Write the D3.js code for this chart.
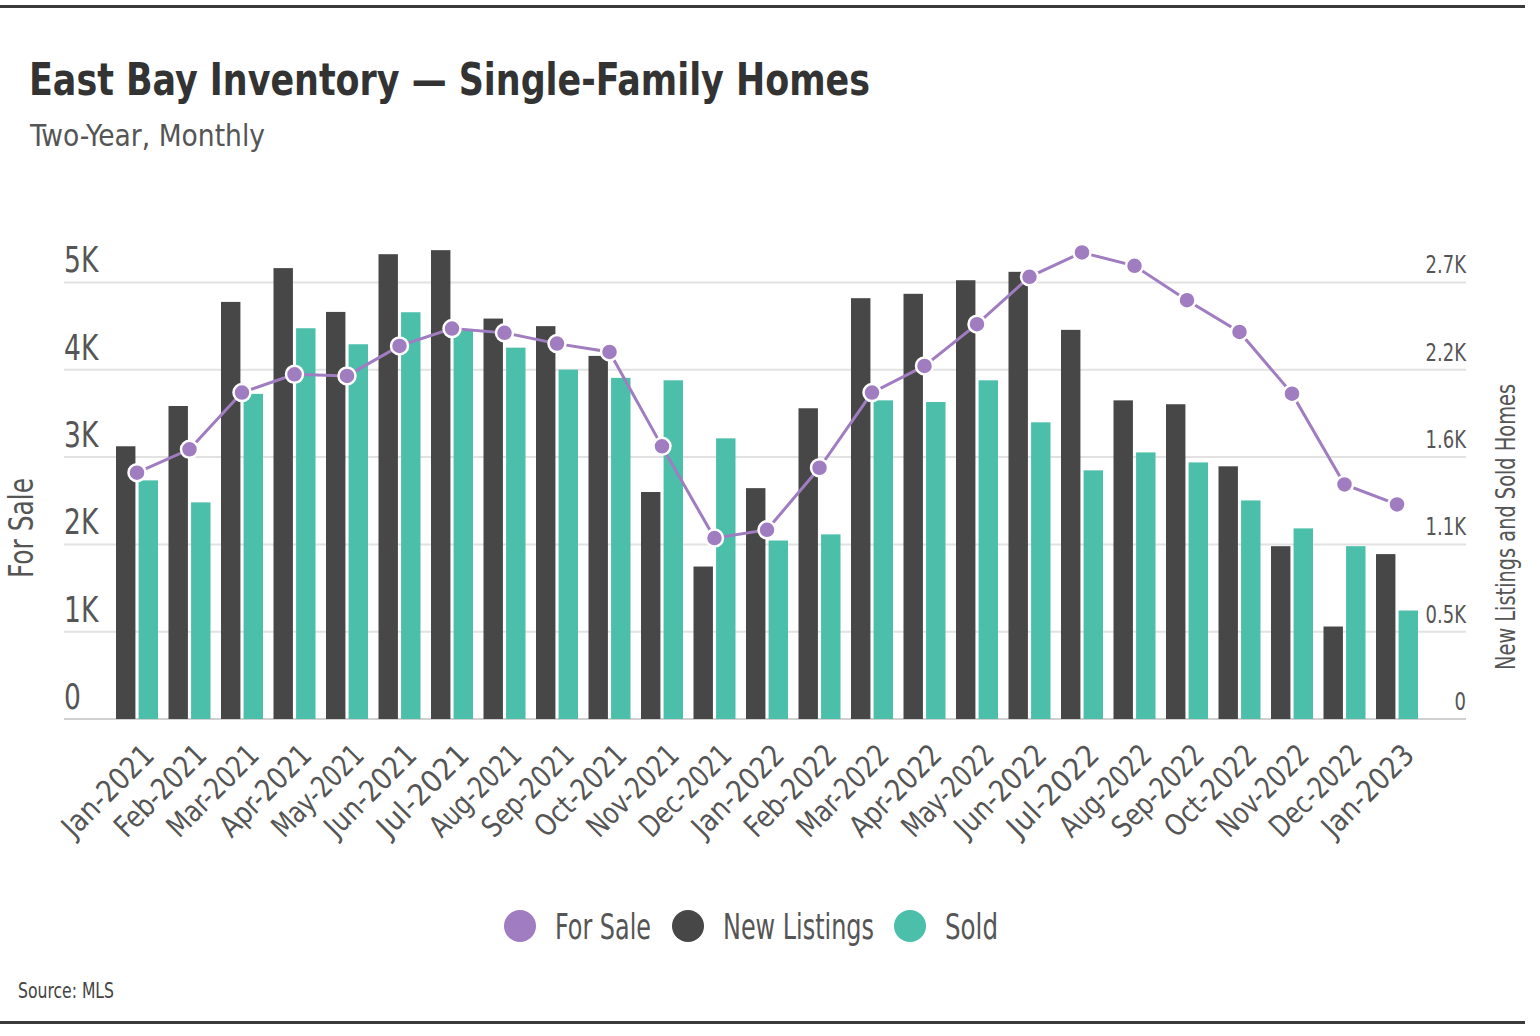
<!DOCTYPE html>
<html>
<head>
<meta charset="utf-8">
<script src="https://cdn.jsdelivr.net/npm/d3@7"></script>
<style>
  body { margin: 0; background: #fff; }
  svg text { font-family: "DejaVu Sans Condensed", "Liberation Sans Narrow", sans-serif; }
</style>
</head>
<body>
<div id="chart"></div>
<script>
// data
const months = ["Jan-2021","Feb-2021","Mar-2021","Apr-2021","May-2021","Jun-2021","Jul-2021","Aug-2021",
  "Sep-2021","Oct-2021","Nov-2021","Dec-2021","Jan-2022","Feb-2022","Mar-2022","Apr-2022","May-2022",
  "Jun-2022","Jul-2022","Aug-2022","Sep-2022","Oct-2022","Nov-2022","Dec-2022","Jan-2023"];
const forSale = [2821, 3089, 3739, 3949, 3930, 4274, 4472, 4423, 4300, 4205, 3123, 2072, 2167,
  2878, 3739, 4044, 4522, 5065, 5344, 5191, 4797, 4434, 3727, 2687, 2458];
const newListings = [1687, 1936, 2580, 2789, 2518, 2875, 2900, 2477, 2430, 2246, 1404, 943, 1428,
  1922, 2603, 2630, 2714, 2766, 2407, 1971, 1947, 1563, 1069, 572, 1020];
const sold = [1476, 1340, 2011, 2417, 2318, 2516, 2400, 2297, 2161, 2110, 2095, 1736, 1104,
  1142, 1971, 1961, 2095, 1835, 1538, 1649, 1587, 1352, 1179, 1069, 671];
const leftTicks = [0, 1000, 2000, 3000, 4000, 5000];
const rightTicks = [0, 540, 1080, 1620, 2160, 2700];
const seriesNames = ["For Sale", "New Listings", "Sold"];

const colors = {"For Sale": "#a07cc0", "New Listings": "#474747", "Sold": "#4bbfaa"};

const W = 1540, H = 1036;
const plot = {left: 64, right: 1466, top: 282.5, bottom: 719};

const svg = d3.select("#chart").append("svg")
    .attr("width", W).attr("height", H);

// rules top and bottom
svg.append("rect").attr("x", 0).attr("y", 5).attr("width", 1525).attr("height", 3).attr("fill", "#3a3a3a");
svg.append("rect").attr("x", 0).attr("y", 1021).attr("width", 1525).attr("height", 3).attr("fill", "#3a3a3a");

// narrow font isn't available, so squeeze the wide texts to the widths in the picture
svg.append("text").attr("x", 29).attr("y", 95)
    .attr("font-size", 45).attr("font-weight", "bold").attr("fill", "#333")
    .attr("textLength", 841).attr("lengthAdjust", "spacingAndGlyphs")
    .text("East Bay Inventory — Single-Family Homes");
svg.append("text").attr("x", 30).attr("y", 146)
    .attr("font-size", 31).attr("fill", "#555")
    .attr("textLength", 235).attr("lengthAdjust", "spacingAndGlyphs")
    .text("Two-Year, Monthly");

const x0 = d3.scaleBand().domain(months)
    .range([110.75, 1423.25]).paddingInner(0.2).paddingOuter(0.1);
const x1 = d3.scaleBand().domain(["New Listings", "Sold"])
    .range([0, x0.bandwidth()]).paddingInner(0.14);

const yL = d3.scaleLinear().domain([0, 5000]).range([plot.bottom, plot.top]);
const yR = d3.scaleLinear().domain([0, 2700]).range([plot.bottom, plot.top]);

// gridlines
svg.append("g").selectAll("line").data(leftTicks).join("line")
    .attr("x1", plot.left).attr("x2", plot.right)
    .attr("y1", d => yL(d)).attr("y2", d => yL(d))
    .attr("stroke", d => d === 0 ? "#d0d0d0" : "#e2e2e2")
    .attr("stroke-width", 2);

// left axis labels
svg.append("g").selectAll("text").data(leftTicks).join("text")
    .attr("x", plot.left).attr("y", d => yL(d) - 10)
    .attr("font-size", 36).attr("fill", "#555")
    .attr("transform", d => "translate(" + plot.left + "," + (yL(d) - 10) + ") scale(0.82,1) translate(" + (-plot.left) + "," + (-(yL(d) - 10)) + ")")
    .text(d => d === 0 ? "0" : d / 1000 + "K");

// right axis labels
svg.append("g").selectAll("text").data(rightTicks).join("text")
    .attr("x", plot.right).attr("y", d => yR(d) - 9)
    .attr("text-anchor", "end")
    .attr("font-size", 25).attr("fill", "#555")
    .attr("transform", d => "translate(" + plot.right + "," + (yR(d) - 9) + ") scale(0.8,1) translate(" + (-plot.right) + "," + (-(yR(d) - 9)) + ")")
    .text(d => d === 0 ? "0" : (d / 1000).toFixed(1) + "K");

svg.append("text")
    .attr("transform", "translate(33,528) rotate(-90)")
    .attr("text-anchor", "middle").attr("font-size", 33).attr("fill", "#555")
    .attr("textLength", 100).attr("lengthAdjust", "spacingAndGlyphs")
    .text("For Sale");
svg.append("text")
    .attr("transform", "translate(1515,527) rotate(-90)")
    .attr("text-anchor", "middle").attr("font-size", 26).attr("fill", "#555")
    .attr("textLength", 286).attr("lengthAdjust", "spacingAndGlyphs")
    .text("New Listings and Sold Homes");

// bars
const rows = months.map((m, i) => ({month: m, "New Listings": newListings[i], "Sold": sold[i]}));
svg.append("g").selectAll("g").data(rows).join("g")
    .attr("transform", d => "translate(" + x0(d.month) + ",0)")
    .selectAll("rect")
    .data(d => ["New Listings", "Sold"].map(k => ({key: k, value: d[k]})))
    .join("rect")
    .attr("x", d => x1(d.key))
    .attr("width", x1.bandwidth())
    .attr("y", d => yR(d.value))
    .attr("height", d => yR(0) - yR(d.value))
    .attr("fill", d => colors[d.key]);

// for sale line
const cx = m => x0(m) + x0.bandwidth() / 2;
const pts = months.map((m, i) => [m, forSale[i]]);
svg.append("path").datum(pts)
    .attr("fill", "none").attr("stroke", colors["For Sale"]).attr("stroke-width", 3)
    .attr("d", d3.line().x(d => cx(d[0])).y(d => yL(d[1])));
svg.append("g").selectAll("circle").data(pts).join("circle")
    .attr("cx", d => cx(d[0])).attr("cy", d => yL(d[1])).attr("r", 8.5)
    .attr("fill", colors["For Sale"]).attr("stroke", "#fff").attr("stroke-width", 2.5);

// x labels
svg.append("g").selectAll("text").data(months).join("text")
    .attr("transform", d => "translate(" + (cx(d) + 3) + ",741) rotate(-45)")
    .attr("text-anchor", "end").attr("dy", "0.75em")
    .attr("font-size", 30).attr("fill", "#555")
    .attr("textLength", 116).attr("lengthAdjust", "spacingAndGlyphs")
    .text(d => d);

// legend
const legendX = [520, 688, 910];
const legendW = [96, 151, 53];
const leg = svg.append("g").selectAll("g").data(seriesNames).join("g")
    .attr("transform", (d, i) => "translate(" + legendX[i] + ",926)");
leg.append("circle").attr("r", 16).attr("fill", d => colors[d]);
leg.append("text").attr("x", 35).attr("dy", "0.36em")
    .attr("font-size", 35).attr("fill", "#555")
    .attr("textLength", (d, i) => legendW[i]).attr("lengthAdjust", "spacingAndGlyphs")
    .text(d => d);

svg.append("text").attr("x", 18).attr("y", 998)
    .attr("font-size", 22).attr("fill", "#444")
    .attr("textLength", 96).attr("lengthAdjust", "spacingAndGlyphs")
    .text("Source: MLS");
</script>
</body>
</html>
